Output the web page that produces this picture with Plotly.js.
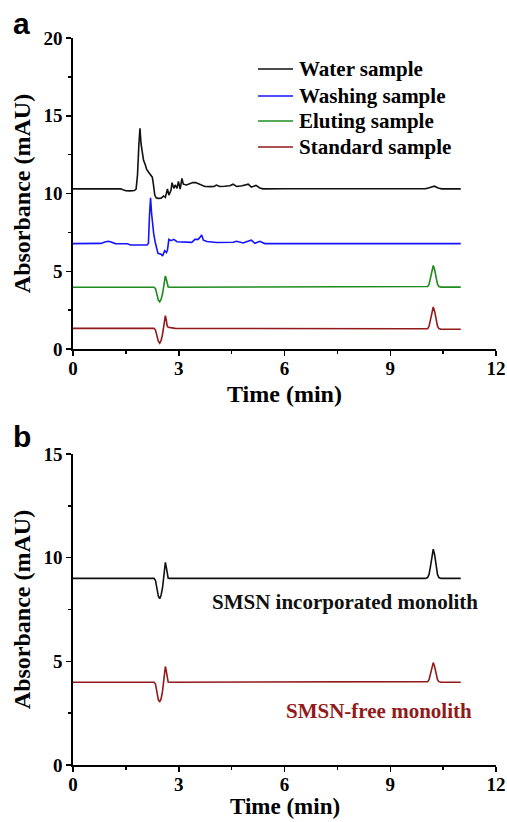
<!DOCTYPE html>
<html>
<head>
<meta charset="utf-8">
<script src="https://cdn.plot.ly/plotly-3.0.1.min.js"></script>
<style>html,body{margin:0;padding:0;background:#fff;}#chart{width:507px;height:822px;}</style>
</head>
<body>
<div id="chart"></div>
<script>
// ---- Panel a data ----
const waterT = [0, 1.35, 1.42, 1.5, 1.62, 1.74, 1.79, 1.83, 1.87, 1.90, 1.93, 1.96, 2.0, 2.05, 2.09, 2.14, 2.18, 2.22, 2.25, 2.28, 2.32, 2.36, 2.41, 2.5, 2.57, 2.62, 2.68, 2.72, 2.78, 2.81, 2.86, 2.9, 2.95, 2.99, 3.04, 3.09, 3.13, 3.22, 3.3, 3.4, 3.48, 3.6, 3.74, 3.9, 4.0, 4.07, 4.16, 4.3, 4.45, 4.54, 4.64, 4.8, 4.97, 5.06, 5.19, 5.3, 5.39, 6.0, 8.0, 10.0, 10.13, 10.25, 10.36, 10.46, 11.0];
const waterY = [10.3, 10.3, 10.24, 10.18, 10.17, 10.19, 10.28, 11.2, 13.2, 14.2, 13.2, 12.6, 12.15, 11.85, 11.55, 11.38, 11.27, 11.15, 11.05, 10.6, 9.9, 9.72, 9.69, 9.7, 9.84, 9.75, 10.3, 9.9, 10.2, 10.7, 10.33, 10.55, 10.33, 10.77, 10.29, 10.97, 10.6, 10.55, 10.6, 10.7, 10.7, 10.56, 10.45, 10.44, 10.45, 10.54, 10.45, 10.47, 10.5, 10.6, 10.45, 10.5, 10.6, 10.41, 10.52, 10.36, 10.3, 10.31, 10.3, 10.31, 10.39, 10.47, 10.36, 10.3, 10.3];

const washT = [0, 0.8, 0.88, 0.95, 1.0, 1.06, 1.13, 1.2, 1.54, 1.63, 2.1, 2.14, 2.17, 2.2, 2.23, 2.26, 2.29, 2.33, 2.37, 2.41, 2.5, 2.54, 2.6, 2.65, 2.68, 2.72, 2.78, 2.82, 2.86, 2.95, 3.18, 3.37, 3.46, 3.55, 3.61, 3.65, 3.7, 3.8, 4.07, 4.54, 4.64, 4.83, 4.98, 5.06, 5.16, 5.3, 5.44, 11.0];
const washY = [6.78, 6.79, 6.86, 6.92, 6.93, 6.9, 6.82, 6.78, 6.77, 6.69, 6.69, 6.8, 8.6, 9.72, 8.7, 7.9, 7.4, 6.9, 6.4, 6.15, 6.1, 5.98, 6.32, 6.2, 6.37, 7.05, 6.97, 7.0, 7.05, 6.9, 6.9, 6.86, 7.05, 7.05, 7.2, 7.33, 7.0, 6.91, 6.85, 6.87, 6.93, 6.82, 6.95, 7.0, 6.8, 6.93, 6.78, 6.78];

const eluT = [0, 2.3, 2.34, 2.38, 2.42, 2.46, 2.5, 2.54, 2.57, 2.6, 2.62, 2.64, 2.67, 2.7, 2.75, 10.0, 10.06, 10.1, 10.14, 10.18, 10.22, 10.26, 10.3, 10.34, 10.38, 10.44, 11.0];
const eluY = [3.97, 3.97, 3.88, 3.55, 3.15, 3.04, 3.2, 3.55, 4.0, 4.5, 4.7, 4.55, 4.15, 3.99, 3.97, 3.98, 4.02, 4.16, 4.53, 5.08, 5.37, 5.08, 4.55, 4.17, 4.02, 3.98, 3.98];

const stdT = [0, 2.3, 2.34, 2.38, 2.42, 2.46, 2.5, 2.54, 2.57, 2.6, 2.62, 2.64, 2.67, 2.7, 2.78, 2.9, 9.5, 10.0, 10.06, 10.1, 10.14, 10.18, 10.22, 10.26, 10.3, 10.34, 10.38, 10.44, 11.0];
const stdY = [1.33, 1.33, 1.22, 0.9, 0.5, 0.37, 0.55, 0.95, 1.45, 1.95, 2.14, 1.95, 1.5, 1.4, 1.38, 1.33, 1.3, 1.27, 1.31, 1.46, 1.85, 2.42, 2.70, 2.42, 1.86, 1.47, 1.31, 1.27, 1.27];

// ---- Panel b data ----
const smsnT = [0, 2.3, 2.34, 2.38, 2.42, 2.46, 2.5, 2.54, 2.57, 2.6, 2.62, 2.64, 2.67, 2.7, 2.75, 10.0, 10.06, 10.1, 10.14, 10.18, 10.22, 10.26, 10.3, 10.34, 10.38, 10.44, 11.0];
const smsnY = [9.0, 9.0, 8.9, 8.55, 8.15, 8.02, 8.2, 8.55, 9.0, 9.55, 9.77, 9.6, 9.15, 9.01, 9.0, 9.0, 9.04, 9.19, 9.57, 10.13, 10.41, 10.13, 9.57, 9.19, 9.04, 9.0, 9.0];
const freeT = [0, 2.3, 2.34, 2.38, 2.42, 2.46, 2.5, 2.54, 2.57, 2.6, 2.62, 2.64, 2.67, 2.7, 2.75, 10.0, 10.06, 10.1, 10.14, 10.18, 10.22, 10.26, 10.3, 10.34, 10.38, 10.44, 11.0];
const freeY = [3.99, 3.99, 3.9, 3.56, 3.15, 3.04, 3.2, 3.56, 4.0, 4.55, 4.75, 4.6, 4.18, 4.0, 3.99, 3.99, 4.02, 4.12, 4.37, 4.74, 4.94, 4.74, 4.37, 4.12, 4.02, 3.99, 3.99];

const namesA = ["Water sample", "Washing sample", "Eluting sample", "Standard sample"];
const labelsB = ["SMSN incorporated monolith", "SMSN-free monolith"];
const xTitle = "Time (min)";
const yTitle = "Absorbance (mAU)";

const BLACK = "#111111", BLUE = "#1414ff", GREEN = "#1e8c1e", RED = "#921a1a";
const colorsA = [BLACK, BLUE, GREEN, RED];
const SERIF = "Liberation Serif, Times New Roman, serif";
const LW = 1.6;
const titleFont = {family: SERIF, size: 24, color: "#000", weight: "bold"};
const titleFontB = {family: SERIF, size: 23, color: "#000", weight: "bold"};

const traces = [
  {x: waterT, y: waterY, name: namesA[0], type: "scatter", mode: "lines", line: {color: colorsA[0], width: LW}, xaxis: "x", yaxis: "y"},
  {x: washT, y: washY, name: namesA[1], type: "scatter", mode: "lines", line: {color: colorsA[1], width: LW}, xaxis: "x", yaxis: "y"},
  {x: eluT, y: eluY, name: namesA[2], type: "scatter", mode: "lines", line: {color: colorsA[2], width: LW}, xaxis: "x", yaxis: "y"},
  {x: stdT, y: stdY, name: namesA[3], type: "scatter", mode: "lines", line: {color: colorsA[3], width: LW}, xaxis: "x", yaxis: "y"},
  {x: smsnT, y: smsnY, name: labelsB[0], type: "scatter", mode: "lines", line: {color: BLACK, width: LW}, xaxis: "x2", yaxis: "y2"},
  {x: freeT, y: freeY, name: labelsB[1], type: "scatter", mode: "lines", line: {color: RED, width: LW}, xaxis: "x2", yaxis: "y2"}
];

function xax(anchor, withTitle) {
  const a = {
    anchor: anchor, domain: [0, 1], range: [0, 12], dtick: 3, tick0: 0,
    showline: true, linecolor: "#000", linewidth: 1.6, mirror: false,
    ticks: "outside", ticklen: 5, tickwidth: 1.5, tickcolor: "#000",
    minor: {dtick: 1.5, tick0: 0, ticks: "outside", ticklen: 3, tickwidth: 1.5, tickcolor: "#000", showgrid: false},
    showgrid: false, zeroline: false,
    tickfont: {family: SERIF, size: 19, color: "#000", weight: "bold"},
    ticklabelstandoff: -3,
    fixedrange: true
  };
  if (withTitle) a.title = {text: xTitle, font: titleFont, standoff: 7};
  return a;
}
function yax(anchor, domain, top) {
  return {
    anchor: anchor, domain: domain, range: [0, top], dtick: 5, tick0: 0,
    showline: true, linecolor: "#000", linewidth: 1.6, mirror: false,
    ticks: "outside", ticklen: 5, tickwidth: 1.5, tickcolor: "#000",
    minor: {dtick: 2.5, tick0: 0, ticks: "outside", ticklen: 3, tickwidth: 1.5, tickcolor: "#000", showgrid: false},
    showgrid: false, zeroline: false,
    tickfont: {family: SERIF, size: 19, color: "#000", weight: "bold"},
    title: {text: yTitle, font: titleFont, standoff: 6},
    fixedrange: true
  };
}

// Legend of panel a (paper coordinates of the plot area)
const legRowsY = [0.9574, 0.9202, 0.8858, 0.8501];
const legLineX0 = 0.4374, legLineX1 = 0.5201, legTextX = 0.5296;
const shapes = [];
const annotations = [];
namesA.forEach((n, i) => {
  shapes.push({type: "line", xref: "paper", yref: "paper", x0: legLineX0, x1: legLineX1, y0: legRowsY[i], y1: legRowsY[i],
               line: {color: colorsA[i], width: LW}});
  annotations.push({text: n, xref: "paper", yref: "paper", x: legTextX, y: legRowsY[i], xanchor: "left", yanchor: "middle",
                    showarrow: false, font: {family: SERIF, size: 21, color: "#000", weight: "bold"}});
});

annotations.push(
  {text: "a", xref: "paper", yref: "paper", x: -0.1206, y: 1.0206, xanchor: "center", yanchor: "middle", showarrow: false,
   font: {family: "Liberation Sans, Arial, sans-serif", size: 30, color: "#000", weight: "bold"}},
  {text: "b", xref: "paper", yref: "paper", x: -0.1206, y: 0.4512, xanchor: "center", yanchor: "middle", showarrow: false,
   font: {family: "Liberation Sans, Arial, sans-serif", size: 30, color: "#000", weight: "bold"}},
  {text: labelsB[0], xref: "x2", yref: "y2", x: 7.73, y: 7.84, xanchor: "center", yanchor: "middle", showarrow: false,
   font: {family: SERIF, size: 21, color: BLACK, weight: "bold"}},
  {text: labelsB[1], xref: "x2", yref: "y2", x: 8.68, y: 2.62, xanchor: "center", yanchor: "middle", showarrow: false,
   font: {family: SERIF, size: 21, color: RED, weight: "bold"}},
  // x-axis title of panel b (placed just below the tick labels, as in the reference)
  {text: xTitle, xref: "paper", yref: "paper", x: 0.5, y: -0.0772, xanchor: "center", yanchor: "bottom", showarrow: false,
   font: titleFontB}
);

const layout = {
  width: 507, height: 822,
  margin: {l: 73, r: 11, t: 38, b: 57, pad: 0},
  paper_bgcolor: "#fff", plot_bgcolor: "#fff",
  showlegend: false,
  xaxis: xax("y", true),
  yaxis: yax("x", [0.5722, 1], 20),
  xaxis2: xax("y2", false),
  yaxis2: yax("x2", [0, 0.4278], 15),
  shapes: shapes,
  annotations: annotations
};

Plotly.newPlot("chart", traces, layout, {displayModeBar: false, staticPlot: true});
</script>
</body>
</html>
